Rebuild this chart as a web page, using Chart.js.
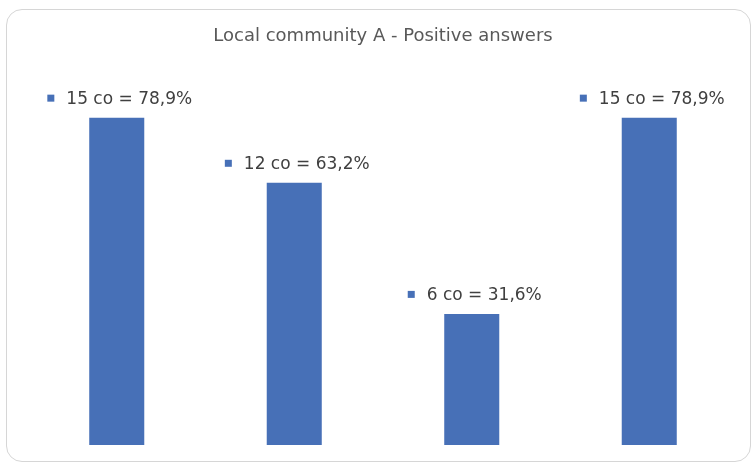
<!DOCTYPE html>
<html>
<head>
<meta charset="utf-8">
<script src="https://cdn.jsdelivr.net/npm/chart.js@4/dist/chart.umd.min.js"></script>
<style>
    html, body { margin: 0; padding: 0; background: #fff; }
    #wrap { position: relative; width: 754px; height: 466px; }
    #frame {
        position: absolute; left: 6px; top: 9px; width: 745px; height: 453px;
        border: 1.5px solid #d6d6d6; border-radius: 16px; box-sizing: border-box;
        pointer-events: none;
    }
    #chart { position: absolute; left: 0; top: 0; }
</style>
</head>
<body>
<div id="wrap">
    <div id="frame"></div>
    <canvas id="chart" width="754" height="466"></canvas>
</div>
<script>
// Data
var categories = ["Q1", "Q2", "Q3", "Q4"];
var counts = [15, 12, 6, 15];
var percents = [78.9, 63.2, 31.6, 78.9];

var barColor = "#4770b7";

// Value label with a small colour key in front of it
var valueLabels = {
    id: "valueLabels",
    afterDatasetsDraw: function (chart) {
        var ctx = chart.ctx;
        var meta = chart.getDatasetMeta(0);
        ctx.save();
        ctx.font = "17px 'DejaVu Sans'";
        ctx.textBaseline = "middle";
        meta.data.forEach(function (bar, i) {
            var text = counts[i] + " co = " + percents[i].toFixed(1).replace(".", ",") + "%";
            var w = ctx.measureText(text).width;
            var total = 7 + 12 + w;
            var x0 = bar.x - total / 2 + 3;
            var y = bar.y - 18;
            ctx.fillStyle = barColor;
            ctx.fillRect(x0, y - 5, 7, 7);
            ctx.fillStyle = "#404040";
            ctx.textAlign = "left";
            ctx.fillText(text, x0 + 19, y);
        });
        ctx.restore();
    }
};

new Chart(document.getElementById("chart").getContext("2d"), {
    type: "bar",
    data: {
        labels: categories,
        datasets: [{
            data: percents,
            backgroundColor: barColor,
            categoryPercentage: 1,
            barPercentage: 0.31
        }]
    },
    options: {
        responsive: false,
        animation: false,
        layout: { padding: { left: 28, right: 16, top: 0, bottom: 21 } },
        scales: {
            x: { display: false },
            y: { display: false, min: 0, max: 90 }
        },
        plugins: {
            legend: { display: false },
            tooltip: { enabled: false },
            title: {
                display: true,
                text: "Local community A - Positive answers",
                color: "#595959",
                font: { family: "'DejaVu Sans'", size: 18, weight: "normal" },
                padding: { top: 26, bottom: 24 }
            }
        }
    },
    plugins: [valueLabels]
});
</script>
</body>
</html>
